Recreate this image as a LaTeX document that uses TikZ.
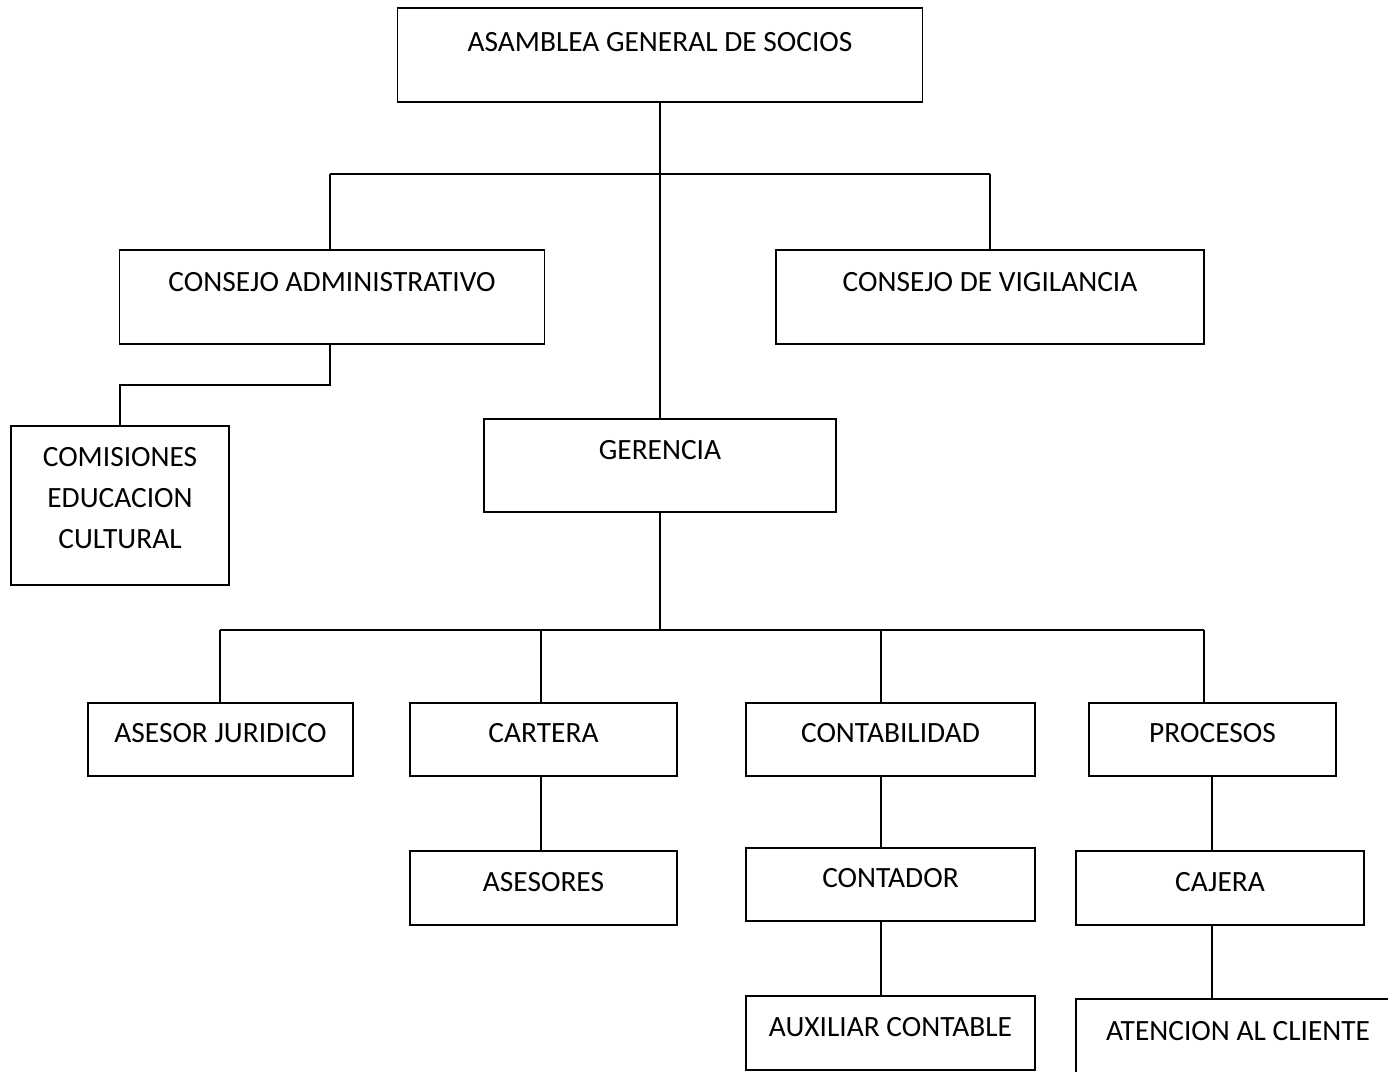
\documentclass[tikz,border=0pt]{standalone}
\usepackage{fontspec}
\setmainfont{Carlito}
\begin{document}
\begin{tikzpicture}[x=1pt,y=-1pt,
  orgbox/.style={draw,line width=1.6pt,inner sep=0pt,font=\fontsize{29.4}{41}\selectfont,align=center},
  conn/.style={line width=1.6pt}]
\useasboundingbox (0,0) rectangle (1388,1071);
% boxes
\node[orgbox,minimum width=525pt,text height=43pt,text depth=51pt] (asam) at (660,55) {ASAMBLEA GENERAL DE SOCIOS};
\node[orgbox,minimum width=425pt,text height=41pt,text depth=53pt] (ca) at (332,297) {CONSEJO ADMINISTRATIVO};
\node[orgbox,minimum width=428pt,text height=41pt,text depth=53pt] (cv) at (990,297) {CONSEJO DE VIGILANCIA};
\node[orgbox,minimum width=218pt,text height=122pt,text depth=37pt] (com) at (120,505.5) {COMISIONES\\EDUCACION\\CULTURAL};
\node[orgbox,minimum width=352pt,text height=40pt,text depth=53pt] (ger) at (660,465.5) {GERENCIA};
\node[orgbox,minimum width=265pt,text height=39pt,text depth=34pt] (aj) at (220.5,739.5) {ASESOR JURIDICO};
\node[orgbox,minimum width=267pt,text height=39pt,text depth=34pt] (cart) at (543.5,739.5) {CARTERA};
\node[orgbox,minimum width=289pt,text height=39pt,text depth=34pt] (cont) at (890.5,739.5) {CONTABILIDAD};
\node[orgbox,minimum width=247pt,text height=39pt,text depth=34pt] (proc) at (1212.5,739.5) {PROCESOS};
\node[orgbox,minimum width=267pt,text height=40pt,text depth=34pt] (ases) at (543.5,888) {ASESORES};
\node[orgbox,minimum width=289pt,text height=39pt,text depth=34pt] (ctdr) at (890.5,884.5) {CONTADOR};
\node[orgbox,minimum width=289pt,text height=40pt,text depth=34pt] (aux) at (890.5,1033) {AUXILIAR CONTABLE};
\node[orgbox,minimum width=288pt,text height=40pt,text depth=34pt] (caj) at (1220,888) {CAJERA};
\node[orgbox,minimum width=324pt,text height=41pt,text depth=60pt] (aten) at (1238,1049.5) {ATENCION AL CLIENTE};
% connectors top
\coordinate (tl) at (330,174);
\coordinate (tr) at (990,174);
\draw[conn] (asam.south) -- (ger.north);
\draw[conn] (tl) -- (tr);
\draw[conn] (tl) -- (tl |- ca.north);
\draw[conn] (tr) -- (tr |- cv.north);
\draw[conn] (ca.south -| tl) -- ++(0,40) -| (com.north);
% connectors bottom
\coordinate (b1) at (220,630);
\coordinate (b2) at (541,630);
\coordinate (b3) at (881,630);
\coordinate (b4) at (1204,630);
\coordinate (p) at (1212,630);
\draw[conn] (ger.south) -- (ger.south |- b1);
\draw[conn] (b1) -- (b4);
\draw[conn] (b1) -- (b1 |- aj.north);
\draw[conn] (b2) -- (b2 |- cart.north);
\draw[conn] (b3) -- (b3 |- cont.north);
\draw[conn] (b4) -- (b4 |- proc.north);
\draw[conn] (cart.south -| b2) -- (ases.north -| b2);
\draw[conn] (cont.south -| b3) -- (ctdr.north -| b3);
\draw[conn] (ctdr.south -| b3) -- (aux.north -| b3);
\draw[conn] (proc.south -| p) -- (caj.north -| p);
\draw[conn] (caj.south -| p) -- (aten.north -| p);
\end{tikzpicture}
\end{document}
